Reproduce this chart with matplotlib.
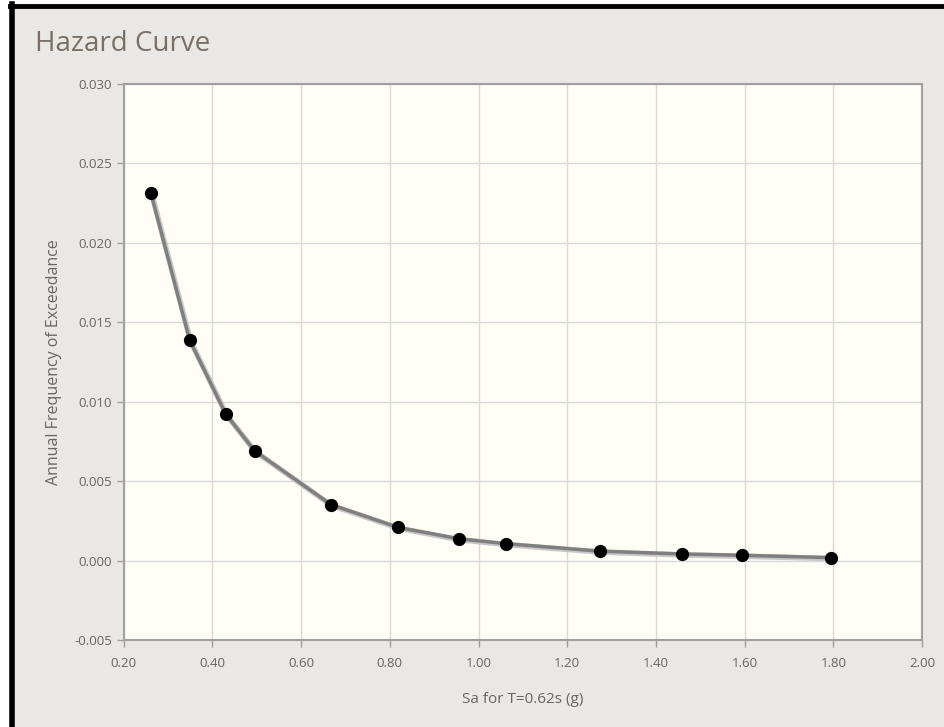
import numpy as np
import matplotlib.pyplot as plt
from matplotlib.patches import Rectangle
from matplotlib.lines import Line2D

# hazard curve points
sa = [0.261, 0.349, 0.430, 0.495, 0.667, 0.819, 0.955, 1.061, 1.273, 1.458, 1.593, 1.794]
freq = [0.02317, 0.01387, 0.00924, 0.00693, 0.00355, 0.00211, 0.00140, 0.00109,
        0.00062, 0.00044, 0.00036, 0.00021]
xticks = [0.2, 0.4, 0.6, 0.8, 1.0, 1.2, 1.4, 1.6, 1.8, 2.0]
yticks = [-0.005, 0.0, 0.005, 0.010, 0.015, 0.020, 0.025, 0.030]

plt.rcParams['font.family'] = ['Open Sans', 'DejaVu Sans']

fig = plt.figure(figsize=(9.45, 7.27), dpi=100, facecolor='white')
# panel background with black frame on left and top
fig.add_artist(Rectangle((10 / 945, 0), 1, 1 - 6 / 727, transform=fig.transFigure,
                         facecolor='#e9e8e4', edgecolor='none', zorder=0))
fig.add_artist(Line2D([12.5 / 945, 12.5 / 945], [0, 1 - 4 / 727], transform=fig.transFigure,
                      color='black', lw=4))
fig.add_artist(Line2D([10 / 945, 1], [1 - 6 / 727, 1 - 6 / 727], transform=fig.transFigure,
                      color='black', lw=3.5))

ax = fig.add_axes([0.1309, 0.119, 0.9757 - 0.1309, 0.8845 - 0.119])
ax.set_facecolor('#fffdf6')

# soft shadow under the curve, then the curve itself
ax.plot(np.array(sa) + 0.002, np.array(freq) - 0.00006, color='#c8c8c8', lw=4, zorder=2)
ax.plot(sa, freq, color='#7f7f7f', lw=2.5, zorder=3)
ax.plot(sa, freq, 'o', color='black', markersize=8.5, zorder=4)

ax.set_xlim(0.2, 2.0)
ax.set_ylim(-0.005, 0.030)
ax.set_xticks(xticks)
ax.set_yticks(yticks)
ax.set_xticklabels(['%.2f' % v for v in xticks])
ax.set_yticklabels(['%.3f' % v for v in yticks])
ax.grid(True, color='#d9d9d9', lw=1)
ax.set_axisbelow(True)

for s in ax.spines.values():
    s.set_color('#a0a0a0')
    s.set_linewidth(1.5)
ax.tick_params(direction='out', length=5, width=1, color='#a0a0a0',
               labelcolor='#666666', labelsize=9.5)
ax.tick_params(axis='x', pad=7)

ax.set_xlabel('Sa for T=0.62s (g)', color='#666666', fontsize=11, labelpad=16)
ax.set_ylabel('Annual Frequency of Exceedance', color='#666666', fontsize=11.5,
              labelpad=9)

fig.text(35 / 945, 1 - 44 / 727, 'Hazard Curve', color='#7a6f66', fontsize=20,
         ha='left', va='center')

fig.savefig('out.png', dpi=100, facecolor=fig.get_facecolor())
